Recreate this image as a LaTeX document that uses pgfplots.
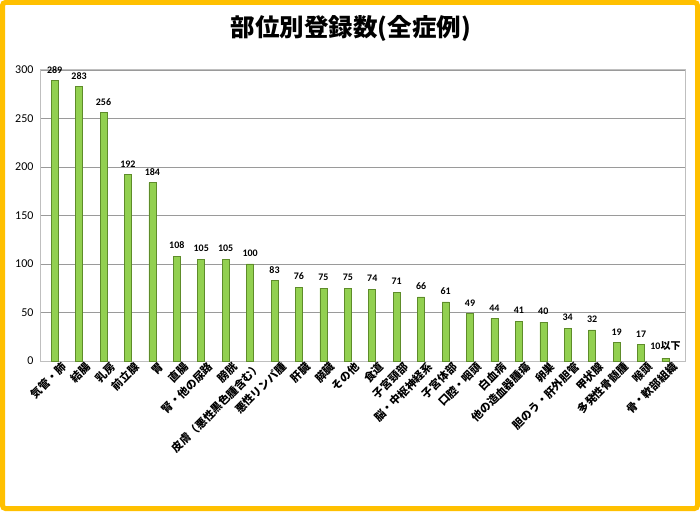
\documentclass[border=0pt]{standalone}
\usepackage{fontspec}
\usepackage{pgfplots}
\usepackage{pgfplotstable}
\pgfplotsset{compat=1.18}
\setmainfont{Carlito}
\newfontfamily\cjk{Noto Sans CJK JP}
\definecolor{framey}{HTML}{FFC000}
\definecolor{bargreen}{HTML}{92D050}
\definecolor{bardark}{HTML}{5E8C2A}
\definecolor{gridgray}{HTML}{9A9A9A}
\definecolor{boxgray}{HTML}{BFBFBF}

\pgfplotstableread{
x y lab
1 289 289
2 283 283
3 256 256
4 192 192
5 184 184
6 108 108
7 105 105
8 105 105
9 100 100
10 83 83
11 76 76
12 75 75
13 75 75
14 74 74
15 71 71
16 66 66
17 61 61
18 49 49
19 44 44
20 41 41
21 40 40
22 34 34
23 32 32
24 19 19
25 17 17
26 3 {10{\cjk\bfseries 以下}}
}\counts

\begin{document}
\begin{tikzpicture}
\useasboundingbox (0pt,0pt) rectangle (700pt,511pt);
\fill[white] (0pt,0pt) rectangle (700pt,511pt);
\draw[framey, line width=5pt, rounded corners=3pt] (2.5pt,2.5pt) rectangle (697.5pt,508.5pt);
\node[font=\cjk\bfseries\fontsize{24.5}{27}\selectfont] at (351pt,483pt) {部位別登録数(全症例)};
\begin{axis}[
  at={(40pt,150pt)}, anchor=south west,
  scale only axis, width=645pt, height=291pt,
  ymin=0, ymax=300, xmin=0.4, xmax=26.8,
  ytick={0,50,...,300},
  xtick={1,...,26},
  xticklabels={{気管・肺},{結腸},{乳房},{前立腺},{胃},{直腸},{腎・他の尿路},{膀胱},{皮膚（悪性黒色腫含む）},{悪性リンパ腫},{肝臓},{膵臓},{その他},{食道},{子宮頸部},{脳・中枢神経系},{子宮体部},{口腔・咽頭},{白血病},{他の造血器腫瘍},{卵巣},{胆のう・肝外胆管},{甲状腺},{多発性骨髄腫},{喉頭},{骨・軟部組織}},
  x tick label style={font=\cjk\bfseries\fontsize{11}{12}\selectfont, rotate=45, anchor=north east, inner sep=0pt, xshift=4pt, yshift=-4pt},
  y tick label style={font=\fontsize{12}{14}\selectfont, xshift=-3pt},
  /pgf/number format/assume math mode=true,
  major tick length=0pt,
  ymajorgrids,
  major grid style={gridgray, line width=0.8pt},
  axis line style={boxgray, line width=1pt},
  nodes near coords,
  point meta=explicit symbolic,
  every node near coord/.append style={font=\bfseries\fontsize{10}{11}\selectfont, black, inner sep=0pt, yshift=7pt},
]
\addplot[ybar, bar width=7pt, bar shift=0pt, fill=bargreen, draw=bardark, line width=0.6pt]
  table[x=x, y=y, meta=lab] {\counts};
\end{axis}
\end{tikzpicture}
\end{document}
